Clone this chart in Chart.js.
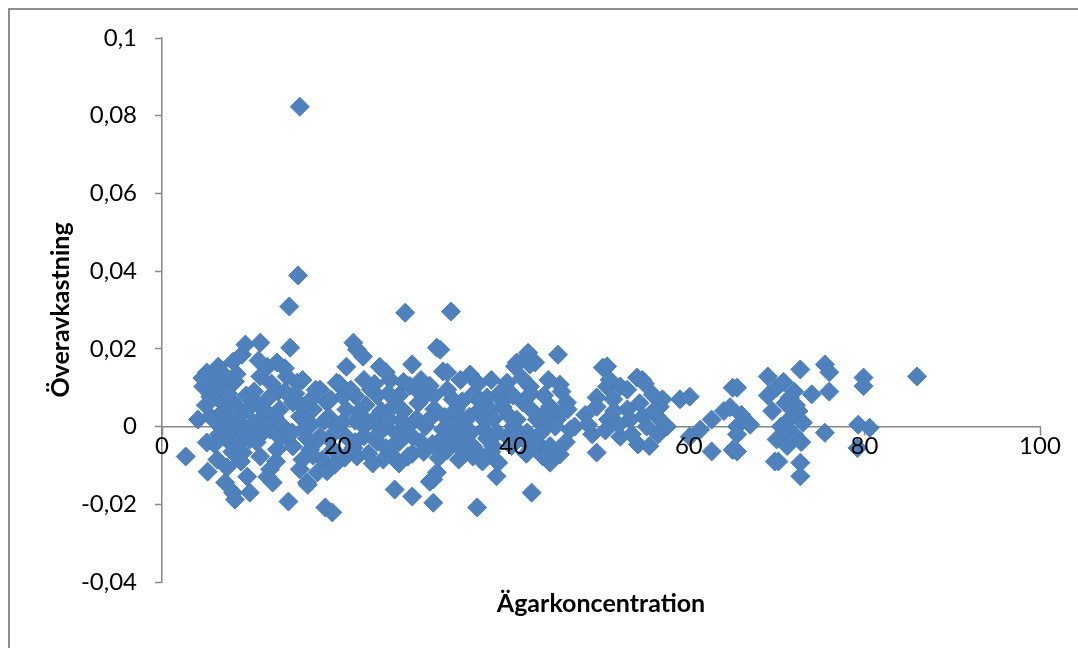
<!DOCTYPE html>
<html>
<head>
<meta charset="utf-8">
<script src="https://cdn.jsdelivr.net/npm/chart.js@4.4.1/dist/chart.umd.min.js"></script>
<style>
  html, body { margin: 0; padding: 0; background: #fff; overflow: hidden; }
  #wrap { position: relative; width: 1078px; height: 648px; }
  #frame { position: absolute; left: 8px; top: 8px; width: 1200px; height: 800px; border: 2px solid #8e8e8e; box-sizing: border-box; pointer-events: none; }
  canvas { position: absolute; left: 0; top: 0; }
</style>
</head>
<body>
<div id="wrap">
  <canvas id="chart" width="1078" height="648"></canvas>
  <div id="frame"></div>
</div>
<script>
// Axis texts and ticks
const xTitle = 'Ägarkoncentration';
const yTitle = 'Överavkastning';
const xTickValues = [0, 20, 40, 60, 80, 100];
const yTickValues = [-0.04, -0.02, 0, 0.02, 0.04, 0.06, 0.08, 0.1];

// Points [ägarkoncentration, överavkastning], grouped by x band
const punkter0_10 = [
  [2.7,-0.0077],[4.1,0.0018],[4.7,0.0103],[5.1,0.0139],[5.5,0.0077],[5.5,0.0026],[5.1,-0.0041],
  [6.3,-0.0085],[5.2,-0.0116],[6.4,0.0154],[6.6,0.0095],[6.6,0.0],[7.4,-0.0105],[7.2,-0.0144],
  [8.1,-0.017],[8.3,-0.0188],[8.1,0.0167],[9.1,0.0185],[9.5,0.0211],[8.3,0.0116],[8.1,0.0062],
  [7.4,0.0026],[9.2,0.0036],[8.5,-0.0008],[7.4,-0.0033],[9.2,-0.0067],[9.7,-0.0129],[5.8,0.011],
  [6.0,0.0135],[7.0,0.0105],[7.0,0.004],[7.8,-0.001],[8.8,0.001],[9.0,-0.009],[6.5,-0.002],
  [9.6,0.008],[8.8,-0.004],[6.9,0.006],[5.0,0.0055],[6.0,-0.0045],[7.5,0.0085],[8.5,0.0135],
  [9.5,-0.002],[9.8,0.0045],[7.0,0.0135],[6.0,0.009],[4.6,0.0125],[8.0,-0.0065]
];
const punkter10_20 = [
  [10.0,-0.017],[10.0,-0.0033],[10.4,0.001],[11.2,0.0216],[11.2,0.0129],[12.0,0.0154],[13.1,0.0165],
  [14.2,0.0129],[15.4,0.0113],[13.2,0.009],[12.3,0.0077],[14.9,0.0062],[11.5,0.0026],[13.4,0.0044],
  [15.7,0.0026],[12.3,-0.0008],[14.2,-0.0026],[16.1,-0.0008],[11.2,-0.0077],[12.3,-0.011],[12.0,-0.0129],
  [12.6,-0.0144],[13.1,-0.0059],[14.9,-0.0051],[15.7,-0.011],[16.5,-0.0144],[17.7,-0.0118],[18.3,-0.0085],
  [16.9,-0.0059],[14.4,-0.0193],[18.6,-0.0208],[19.4,-0.0221],[14.6,0.0203],[14.5,0.0309],[15.5,0.0389],
  [15.7,0.0823],[17.2,0.0044],[18.8,0.0062],[18.0,0.0095],[19.9,0.0113],[18.0,-0.0026],[19.9,0.0],
  [19.5,-0.0059],[16.6,-0.015],[10.8,0.006],[11.0,0.017],[12.8,0.0025],[13.8,0.0],[15.2,0.0085],
  [16.5,0.0015],[17.0,0.007],[17.5,-0.004],[19.0,0.0025],[16.0,0.012],[18.8,-0.0115],[19.7,-0.0098],
  [13.5,-0.003],[10.8,-0.004],[10.5,0.009],[11.8,0.004],[12.5,0.011],[13.0,-0.009],[14.0,0.009],
  [14.8,-0.0015],[15.8,0.0055],[16.5,-0.003],[17.5,0.0095],[18.5,0.0015],[19.2,0.007],[17.2,-0.0075],
  [19.0,-0.003],[16.0,-0.0085],[11.5,-0.0015],[14.0,0.015],[17.0,0.0005]
];
const punkter20_30 = [
  [21.0,0.0154],[20.6,0.0077],[21.0,0.0044],[21.0,-0.0026],[21.8,0.0216],[22.2,0.0198],[22.9,0.018],
  [22.2,-0.0077],[24.8,0.0154],[23.0,0.012],[26.0,0.012],[29.5,0.012],[22.0,0.008],[24.5,0.008],
  [27.0,0.008],[30.0,0.008],[22.5,0.004],[25.0,0.004],[27.5,0.004],[23.0,0.0],[25.5,0.0],[28.0,0.0],
  [22.0,-0.004],[24.5,-0.004],[27.0,-0.004],[29.5,-0.004],[23.5,-0.007],[26.0,-0.007],[28.5,-0.007],
  [25.2,-0.0085],[28.0,-0.0077],[26.5,-0.0162],[28.5,-0.018],[28.5,0.016],[27.7,0.0293],[25.5,0.014],
  [23.8,0.0095],[26.5,0.0055],[29.0,0.002],[24.0,0.0015],[26.8,-0.002],[29.0,0.0095],[20.5,0.001],
  [20.8,-0.008],[27.5,0.0115],[30.0,0.0],[20.2,0.011],[21.5,0.0095],[22.0,0.0015],[23.2,0.0055],
  [23.0,-0.0025],[24.2,0.011],[24.8,-0.0015],[25.8,0.0085],[25.8,0.002],[26.5,-0.0045],[27.2,0.0015],
  [28.2,0.0105],[28.5,-0.0025],[29.2,0.006],[29.8,-0.0065],[21.8,-0.0055],[24.0,-0.0095],[27.0,-0.0095],
  [22.8,0.0025],[25.5,-0.0055]
];
const punkter30_40 = [
  [30.9,-0.0196],[30.5,-0.0142],[31.3,-0.0118],[30.9,-0.0136],[31.3,0.0203],[31.7,0.0198],[32.0,0.0142],
  [32.5,0.0139],[32.9,0.0296],[35.1,0.0134],[35.9,0.0113],[33.1,0.007],[33.9,0.0026],[32.8,-0.0026],
  [35.4,-0.005],[35.4,-0.0077],[36.6,-0.0008],[37.4,0.0044],[38.5,0.0087],[39.3,0.0113],[39.6,0.0026],
  [39.3,-0.0026],[37.7,-0.005],[38.3,-0.0093],[38.1,-0.0128],[35.9,-0.0208],[32.5,-0.006],[35.9,-0.0064],
  [32.0,-0.0008],[34.0,0.012],[37.5,0.012],[31.0,0.0045],[33.5,0.0045],[36.0,0.004],[31.0,0.008],
  [35.5,0.0085],[34.5,0.0],[31.5,-0.004],[34.5,-0.003],[37.0,-0.003],[34.5,-0.007],[36.5,-0.009],
  [33.5,-0.0045],[31.5,-0.008],[37.0,0.0075],[36.0,0.011],[30.5,0.0105],[30.5,0.002],[32.2,0.0025],
  [32.5,0.0095],[33.2,-0.002],[34.2,0.0065],[35.0,0.0025],[35.2,-0.0015],[36.2,0.0065],[36.8,0.0015],
  [37.8,0.002],[38.2,-0.0015],[38.8,0.005],[39.8,-0.005],[33.8,-0.0085],[37.5,-0.0065],[30.8,-0.0045],
  [33.0,0.0005],[38.8,0.0065]
];
const punkter40_50 = [
  [40.2,0.0155],[40.4,0.0165],[41.6,0.018],[41.7,0.019],[41.9,0.016],[42.5,0.0165],[45.1,0.0185],
  [45.3,0.0108],[40.4,0.0018],[41.1,0.0062],[41.9,0.0103],[41.6,-0.0015],[42.7,0.0018],[43.1,-0.005],
  [44.2,0.0051],[45.0,0.0018],[46.1,0.0062],[46.5,-0.0008],[43.8,0.0],[44.2,-0.0093],[44.2,-0.0067],
  [45.3,-0.0072],[44.2,-0.005],[43.4,-0.0077],[42.1,-0.017],[46.2,0.0044],[48.2,0.003],[49.5,-0.0067],
  [49.5,0.0075],[49.5,0.0051],[40.0,0.008],[43.5,0.008],[42.0,0.0045],[44.5,0.0045],[40.0,0.0],
  [43.0,-0.002],[41.5,-0.004],[41.5,-0.007],[47.0,0.0],[46.0,-0.004],[45.5,0.009],[44.0,0.012],
  [48.5,0.0005],[49.0,-0.002],[40.5,-0.002],[42.0,0.0085],[42.5,-0.0045],[43.2,0.0025],[44.8,0.0],
  [45.5,0.0035],[41.0,0.0125]
];
const punkter50_60 = [
  [50.2,0.0152],[50.7,0.0155],[54.7,0.012],[54.1,0.0126],[50.7,0.0103],[52.2,0.0103],[51.4,0.007],
  [50.8,0.0018],[52.2,-0.0026],[53.0,0.0044],[54.4,0.006],[55.9,0.0082],[56.4,0.0026],[55.2,0.0],
  [53.3,0.0018],[54.8,0.0026],[56.7,0.0051],[54.2,-0.0046],[57.5,0.0],[59.0,0.007],[60.1,0.0077],
  [60.1,-0.0026],[51.5,0.004],[50.5,-0.001],[53.0,0.0095],[53.5,-0.002],[55.5,-0.005],[56.0,0.004],
  [57.0,0.007],[52.0,0.0005],[51.0,0.012],[55.0,0.011],[56.5,-0.002]
];
const punkter60_90 = [
  [61.3,-0.0008],[62.6,0.0018],[62.6,-0.0064],[64.0,0.004],[64.7,0.005],[65.0,0.01],[65.5,0.01],
  [65.0,-0.006],[65.5,-0.0064],[65.5,0.0],[66.0,0.003],[65.5,-0.002],[67.0,0.0005],[69.0,0.0129],
  [69.0,0.008],[69.5,0.004],[70.0,0.010],[70.2,-0.009],[70.0,-0.0033],[70.5,0.0],[71.0,0.006],
  [71.2,-0.005],[71.5,0.002],[72.0,0.009],[72.0,-0.002],[72.7,0.0147],[72.7,-0.0093],[72.7,-0.0128],
  [72.5,0.004],[72.8,-0.004],[73.0,0.001],[74.0,0.0083],[75.5,0.016],[76.0,0.014],[76.0,0.009],
  [75.5,-0.0016],[79.9,0.0126],[79.9,0.0104],[79.3,0.0005],[80.6,-0.0003],[79.2,-0.0055],[86.0,0.0129],
  [70.8,0.0115],[71.5,0.0075],[69.8,-0.009],[71.0,-0.001],[72.2,0.0055]
];

const allPoints = [].concat(punkter0_10, punkter10_20, punkter20_30, punkter30_40,
  punkter40_50, punkter50_60, punkter60_90).map(([x, y]) => ({ x, y }));

const axisGrey = '#868686';
const tickFont = { family: 'Lato, "Open Sans", sans-serif', size: 24, lineHeight: 1 };
const titleFont = { family: 'Lato, "Open Sans", sans-serif', size: 25, weight: 'bold', lineHeight: 1.2 };

function fmtComma(v) {
  return Number(v.toFixed(2)).toString().replace('.', ',');
}

const ctx = document.getElementById('chart').getContext('2d');
new Chart(ctx, {
  type: 'scatter',
  data: {
    datasets: [{
      data: allPoints,
      pointStyle: 'rectRot',
      pointRadius: 9.5,
      pointHoverRadius: 9.5,
      backgroundColor: '#4F81BD',
      borderColor: '#4A7DBA',
      borderWidth: 1
    }]
  },
  options: {
    responsive: false,
    animation: false,
    layout: { padding: { left: 0, top: 38, right: 38, bottom: 0 } },
    plugins: { legend: { display: false }, tooltip: { enabled: false } },
    scales: {
      x: {
        type: 'linear',
        position: { y: 0 },
        min: 0,
        max: 100,
        afterBuildTicks: (s) => { s.ticks = xTickValues.map(v => ({ value: v })); },
        afterFit: (s) => { s.height = 0; },
        grid: { drawOnChartArea: false, drawTicks: true, tickLength: 8, tickColor: axisGrey, tickWidth: 1.5 },
        border: { color: axisGrey, width: 1.5 },
        // labels sit on top of the markers, like the original
        ticks: { color: '#000', font: tickFont, padding: 0, maxRotation: 0, z: 1 }
      },
      x2: {
        type: 'linear',
        axis: 'x',
        position: 'bottom',
        grid: { display: false },
        border: { display: false },
        ticks: { display: false },
        afterFit: (s) => { s.height = 66; },
        title: { display: true, text: xTitle, color: '#000', font: titleFont, padding: { top: 0, bottom: 29 } }
      },
      y: {
        type: 'linear',
        position: 'left',
        min: -0.04,
        max: 0.1,
        afterBuildTicks: (s) => { s.ticks = yTickValues.map(v => ({ value: v })); },
        afterFit: (s) => { s.width = 162; },
        grid: { drawOnChartArea: false, drawTicks: true, tickLength: 7, tickColor: axisGrey, tickWidth: 1.5 },
        border: { color: axisGrey, width: 1.5 },
        ticks: { color: '#000', font: tickFont, padding: 18, callback: (v) => fmtComma(v) },
        title: { display: true, text: yTitle, color: '#000', font: titleFont, padding: { top: 46, bottom: 0 } }
      }
    }
  }
});
</script>
</body>
</html>
